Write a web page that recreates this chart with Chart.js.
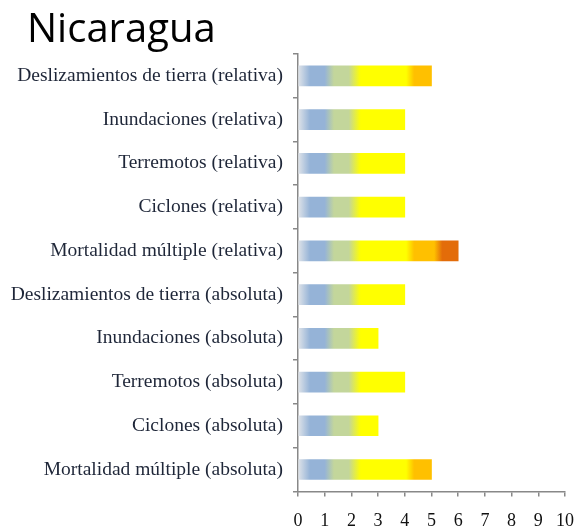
<!DOCTYPE html>
<html>
<head>
<meta charset="utf-8">
<script src="https://cdn.jsdelivr.net/npm/chart.js@4/dist/chart.umd.min.js"></script>
<style>
  html, body { margin: 0; padding: 0; background: #fff; }
  #wrap { width: 578px; height: 531px; }
</style>
</head>
<body>
<div id="wrap"><canvas id="chart" width="578" height="531"></canvas></div>
<script>
// Chart data
const categories = [
  'Deslizamientos de tierra (relativa)',
  'Inundaciones (relativa)',
  'Terremotos (relativa)',
  'Ciclones (relativa)',
  'Mortalidad múltiple (relativa)',
  'Deslizamientos de tierra (absoluta)',
  'Inundaciones (absoluta)',
  'Terremotos (absoluta)',
  'Ciclones (absoluta)',
  'Mortalidad múltiple (absoluta)'
];
const values = [5, 4, 4, 4, 6, 4, 3, 4, 3, 5];
const xTicks = [0, 1, 2, 3, 4, 5, 6, 7, 8, 9, 10];
const titleText = 'Nicaragua';

// colour ramp along the value axis (value, colour)
const rampStops = [0, 0.45, 1.0, 1.35, 1.9, 2.35, 4.05, 4.35, 5.1, 5.4];
const rampColors = ['#e0e4e9', '#95b3d7', '#95b3d7', '#c3d69b', '#c3d69b',
                    '#ffff00', '#ffff00', '#ffc000', '#ffc000', '#e36c09'];

function barGradient(context) {
  const chart = context.chart;
  const { ctx, chartArea, scales } = chart;
  if (!chartArea) return '#95b3d7';
  const x0 = scales.x.getPixelForValue(0);
  const x1 = scales.x.getPixelForValue(10);
  const g = ctx.createLinearGradient(x0, 0, x1, 0);
  rampStops.forEach((v, i) => g.addColorStop(v / 10, rampColors[i]));
  g.addColorStop(1, rampColors[rampColors.length - 1]);
  return g;
}

// title sits left of the label column, so draw it by hand
const titlePlugin = {
  id: 'leftTitle',
  afterDraw(chart) {
    const ctx = chart.ctx;
    ctx.save();
    ctx.font = '40px "Open Sans"';
    ctx.fillStyle = '#000';
    ctx.textBaseline = 'alphabetic';
    ctx.textAlign = 'left';
    ctx.fillText(titleText, 27, 42);
    ctx.restore();
  }
};

new Chart(document.getElementById('chart'), {
  type: 'bar',
  data: {
    labels: categories,
    datasets: [{
      data: values,
      backgroundColor: barGradient,
      borderWidth: 0,
      barThickness: 20
    }]
  },
  options: {
    indexAxis: 'y',
    responsive: false,
    animation: false,
    layout: { padding: { left: 0, right: 13, top: 54, bottom: -15 } },
    plugins: {
      legend: { display: false },
      tooltip: { enabled: false },
      title: { display: false }
    },
    scales: {
      x: {
        min: 0,
        max: 10,
        afterBuildTicks: axis => { axis.ticks = xTicks.map(v => ({ value: v })); },
        afterFit: axis => { axis.paddingRight = 0; axis.paddingLeft = 0; },
        border: { display: true, color: '#888', width: 1.5 },
        grid: { drawOnChartArea: false, drawTicks: true, tickLength: 5, color: '#888', lineWidth: 1.5 },
        ticks: {
          color: '#111',
          padding: 14,
          font: { family: 'Liberation Serif', size: 18 }
        }
      },
      y: {
        afterFit: axis => { axis.width = 298; },
        border: { display: true, color: '#888', width: 1.5 },
        grid: { drawOnChartArea: false, offset: true, tickLength: 5, color: '#888', lineWidth: 1.5 },
        ticks: {
          color: '#1e2638',
          padding: 10,
          font: { family: 'Liberation Serif', size: 19.5 }
        }
      }
    }
  },
  plugins: [titlePlugin]
});
</script>
</body>
</html>
